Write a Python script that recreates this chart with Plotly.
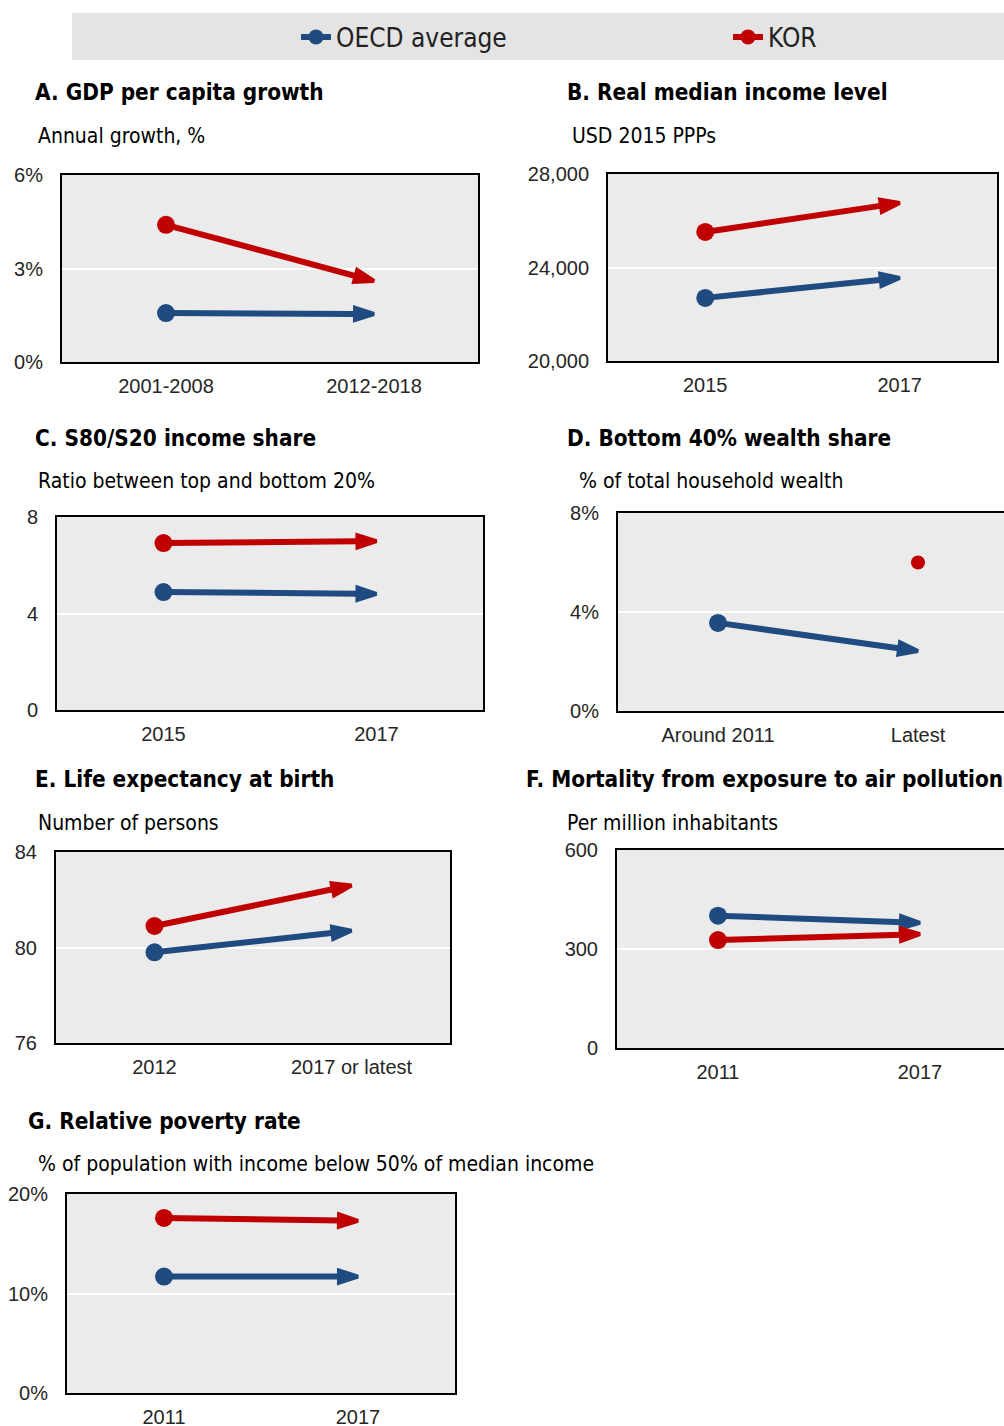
import plotly.graph_objects as go

W, H = 1004, 1426

# ---------------- data ----------------
cat_A = ["2001-2008", "2012-2018"]
oecd_A = [1.57, 1.54]
kor_A = [4.40, 2.60]

cat_B = ["2015", "2017"]
oecd_B = [22700, 23550]
kor_B = [25520, 26760]

cat_C = ["2015", "2017"]
oecd_C = [4.89, 4.81]
kor_C = [6.92, 7.00]

cat_D = ["Around 2011", "Latest"]
oecd_D = [3.56, 2.42]
kor_D = [None, 6.0]

cat_E = ["2012", "2017 or latest"]
oecd_E = [79.8, 80.7]
kor_E = [80.9, 82.6]

cat_F = ["2011", "2017"]
oecd_F = [401, 379]
kor_F = [327, 345]

cat_G = ["2011", "2017"]
oecd_G = [11.7, 11.7]
kor_G = [17.6, 17.3]

titles = ["A. GDP per capita growth", "B. Real median income level",
          "C. S80/S20 income share", "D. Bottom 40% wealth share",
          "E. Life expectancy at birth", "F. Mortality from exposure to air pollution",
          "G. Relative poverty rate"]
subtitles = ["Annual growth, %", "USD 2015 PPPs", "Ratio between top and bottom 20%",
             "% of total household wealth", "Number of persons", "Per million inhabitants",
             "% of population with income below 50% of median income"]

ytick_vals = [[0, 3, 6], [20000, 24000, 28000], [0, 4, 8], [0, 4, 8],
              [76, 80, 84], [0, 300, 600], [0, 10, 20]]
ytick_text = [["0%", "3%", "6%"], ["20,000", "24,000", "28,000"], ["0", "4", "8"],
              ["0%", "4%", "8%"], ["76", "80", "84"], ["0", "300", "600"],
              ["0%", "10%", "20%"]]

series_names = ["OECD average", "KOR"]
colors = {"OECD average": "#1F4B80", "KOR": "#C00000"}

panels = [
    (cat_A, oecd_A, kor_A),
    (cat_B, oecd_B, kor_B),
    (cat_C, oecd_C, kor_C),
    (cat_D, oecd_D, kor_D),
    (cat_E, oecd_E, kor_E),
    (cat_F, oecd_F, kor_F),
    (cat_G, oecd_G, kor_G),
]

# ---------------- layout geometry (pixels) ----------------
boxes = [
    (62, 478, 175, 362, 1.5),
    (608, 997, 174, 361, 1.5),
    (57, 483, 517, 710, 1.5),
    (618, 1004, 513, 711, 1.43),
    (56, 450, 852, 1043, 1.5),
    (617, 1004, 850, 1048, 1.416),
    (67, 455, 1194, 1393, 1.5),
]
title_pos = [(33, 92), (565, 92), (33, 438), (565, 438), (33, 779), (524, 779), (26, 1121)]
sub_pos = [(36, 136), (570, 136), (36, 481), (577, 481), (36, 823), (565, 823), (36, 1164)]
cut_right = [False, False, False, True, False, True, False]

TICKFONT = dict(family="Liberation Sans, Arial, sans-serif", size=20, color="#262626")
NARROW = "Liberation Sans Narrow, Arial Narrow, DejaVu Sans Condensed, sans-serif"

fig = go.Figure()
layout = dict(
    width=W, height=H, margin=dict(l=0, r=0, t=0, b=0, autoexpand=False),
    paper_bgcolor="white", plot_bgcolor="#EBEBEB",
    showlegend=True,
)

annotations = []
for i, (cats, oecd, kor) in enumerate(panels):
    n = "" if i == 0 else str(i + 1)
    x0, x1, y0, y1, xr = boxes[i]
    layout["xaxis" + n] = dict(
        domain=[x0 / W, x1 / W], anchor="y" + n, type="category",
        range=[-0.5, xr], showgrid=False, zeroline=False,
        showline=True, linecolor="black", linewidth=2, mirror=True,
        ticks="", tickfont=TICKFONT, ticklabelstandoff=5, fixedrange=True)
    layout["yaxis" + n] = dict(
        domain=[1 - y1 / H, 1 - y0 / H], anchor="x" + n,
        range=[ytick_vals[i][0], ytick_vals[i][-1]],
        tickvals=ytick_vals[i], ticktext=ytick_text[i],
        showgrid=True, gridcolor="white", gridwidth=2, zeroline=False,
        showline=True, linecolor="black", linewidth=2,
        mirror=(not cut_right[i]),
        ticks="", tickfont=TICKFONT, ticklabelstandoff=13, fixedrange=True)

    for name, vals in zip(series_names, (oecd, kor)):
        c = colors[name]
        if vals[0] is not None:
            # line with arrow head at the latest value
            fig.add_trace(go.Scatter(
                x=cats, y=vals, mode="lines+markers", name=name, showlegend=False,
                xaxis="x" + n, yaxis="y" + n, cliponaxis=False,
                line=dict(color=c, width=6),
                marker=dict(symbol="arrow", size=20, color=c, angleref="previous",
                            line=dict(color=c, width=4)),
                hoverinfo="skip",
            ))
            # dot at the starting value
            fig.add_trace(go.Scatter(
                x=cats[:1], y=vals[:1], mode="markers", name=name, showlegend=False,
                xaxis="x" + n, yaxis="y" + n, cliponaxis=False,
                marker=dict(symbol="circle", size=18, color=c, line=dict(width=0)),
                hoverinfo="skip",
            ))
        else:
            fig.add_trace(go.Scatter(
                x=cats, y=vals, mode="markers", name=name, showlegend=False,
                xaxis="x" + n, yaxis="y" + n, cliponaxis=False,
                marker=dict(symbol="circle", size=14, color=c, line=dict(width=0)),
                hoverinfo="skip",
            ))

    annotations.append(dict(x=title_pos[i][0] / W, y=1 - title_pos[i][1] / H,
                            xref="paper", yref="paper", xanchor="left", yanchor="middle",
                            text="<b>" + titles[i] + "</b>", showarrow=False,
                            font=dict(family=NARROW, size=22.4, color="black")))
    annotations.append(dict(x=sub_pos[i][0] / W, y=1 - sub_pos[i][1] / H,
                            xref="paper", yref="paper", xanchor="left", yanchor="middle",
                            text=subtitles[i], showarrow=False,
                            font=dict(family=NARROW, size=21, color="black")))

# legend entries (legend only, no data)
legend_ids = ["legend", "legend2"]
legend_x = [296, 728]
for name, lid in zip(series_names, legend_ids):
    fig.add_trace(go.Scatter(
        x=[None], y=[None], mode="lines+markers", name=name,
        line=dict(color=colors[name], width=6),
        marker=dict(symbol="circle", size=15, color=colors[name]),
        xaxis="x", yaxis="y", showlegend=True, legend=lid,
    ))

for lid, lx in zip(legend_ids, legend_x):
    layout[lid] = dict(orientation="h", x=lx / W, y=1 - 37 / H, xanchor="left", yanchor="middle",
                       bgcolor="rgba(0,0,0,0)",
                       font=dict(family=NARROW, size=26, color="#222222"),
                       itemclick=False, itemdoubleclick=False)
layout["shapes"] = [dict(type="rect", xref="paper", yref="paper",
                         x0=72 / W, x1=1.0, y0=1 - 60 / H, y1=1 - 13 / H,
                         fillcolor="#E4E4E4", line=dict(width=0), layer="below")]
layout["annotations"] = annotations

fig.update_layout(**layout)
fig.write_html("out.html", config={"displayModeBar": False},
               post_script="document.body.style.margin='0px';document.body.style.overflow='hidden';")
